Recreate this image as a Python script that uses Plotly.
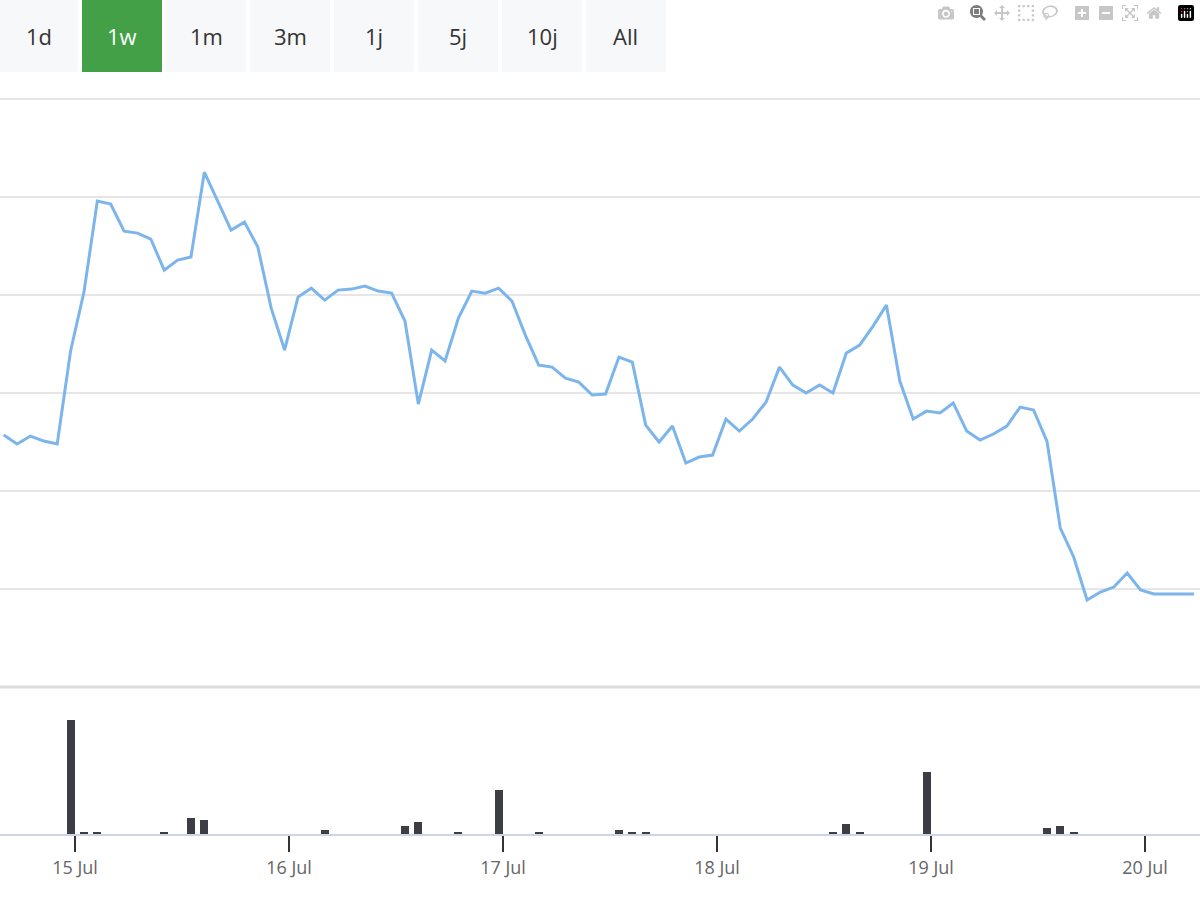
import plotly.graph_objects as go
import pandas as pd

price_px = [435,444,436,441,444,351,292,201,204,231,233,239,270,260,257,172,201,230,222,247,
            308,350,297,288,300,290,289,286,291,293,321,404,350,361,318,291,293,288,301,335,
            365,367,378,382,395,394,357,362,425,442,426,463,457,455,419,431,419,402,367,385,
            393,385,393,353,345,326,305,381,419,411,413,403,431,440,434,426,407,410,441,528,
            557,600,592,587,573,590,594,594,594,594]
prices = [round((687 - p) / 98, 3) for p in price_px]
times = pd.date_range("2024-07-14 16:00", periods=len(prices), freq="90min")

vol_idx = [5,6,7,12,14,15,24,30,31,34,37,40,46,47,48,62,63,64,69,78,79,80]
vol_val = [114,2,2,2,16,14,4,8,12,2,44,2,4,2,2,2,10,2,62,6,8,2]
vol_times = [times[i] for i in vol_idx]

buttons = ["1d", "1w", "1m", "3m", "1j", "5j", "10j", "All"]
active = "1w"
tickvals = pd.date_range("2024-07-15", periods=6, freq="D")
ticktext = ["15 Jul", "16 Jul", "17 Jul", "18 Jul", "19 Jul", "20 Jul"]

fig = go.Figure()
fig.add_trace(go.Scatter(x=times, y=prices, mode="lines", line=dict(color="#7cb5ec", width=3),
                         xaxis="x", yaxis="y", hoverinfo="skip"))
fig.add_trace(go.Bar(x=vol_times, y=vol_val, marker=dict(color="#3d3d45", line=dict(width=0)),
                     width=0.6 * 90 * 60 * 1000, xaxis="x2", yaxis="y2"))

xr = [pd.Timestamp("2024-07-14 15:35"), pd.Timestamp("2024-07-20 06:10")]
fig.update_layout(
    width=1200, height=900, margin=dict(l=0, r=0, t=0, b=0),
    plot_bgcolor="white", paper_bgcolor="white", showlegend=False,
    font=dict(family="Open Sans, DejaVu Sans", color="#333"),
    xaxis=dict(domain=[0, 1], range=xr, anchor="y", showticklabels=False, showgrid=False,
               zeroline=False, matches="x2"),
    yaxis=dict(domain=[0.2367, 0.892], range=[0, 6.02], showticklabels=False, dtick=1,
               gridcolor="#e6e6e6", gridwidth=1.5, zeroline=False),
    xaxis2=dict(domain=[0, 1], range=xr, anchor="y2", tickvals=tickvals, ticktext=ticktext,
                ticks="outside", ticklen=16, tickcolor="#333", tickwidth=1.5,
                showgrid=False, showline=True, linecolor="#ccd6eb", linewidth=2,
                tickfont=dict(size=18, color="#666")),
    yaxis2=dict(domain=[0.0733, 0.2367], range=[0, 147], showticklabels=False, showgrid=False,
                zeroline=False),
    bargap=0,
)
fig.add_shape(type="line", xref="paper", yref="paper", x0=0, x1=1, y0=0.2367, y1=0.2367,
              line=dict(color="#dddddd", width=3))
for i, b in enumerate(buttons):
    x0 = 0 if i == 0 else i * 84 - 2
    x1 = 78 if i == 0 else x0 + 80
    on = b == active
    fig.add_shape(type="rect", xref="paper", yref="paper", x0=x0 / 1200, x1=x1 / 1200,
                  y0=1 - 72 / 900, y1=1, fillcolor="#43a047" if on else "#f7f8fa", line=dict(width=0))
    fig.add_annotation(xref="paper", yref="paper", x=(x0 + x1) / 2400, y=1 - 36 / 900,
                       xanchor="center", yanchor="middle",
                       text=b, showarrow=False, font=dict(size=22, color="white" if on else "#333"))

fig.write_html("out.html", post_script="document.body.style.margin='0';")
